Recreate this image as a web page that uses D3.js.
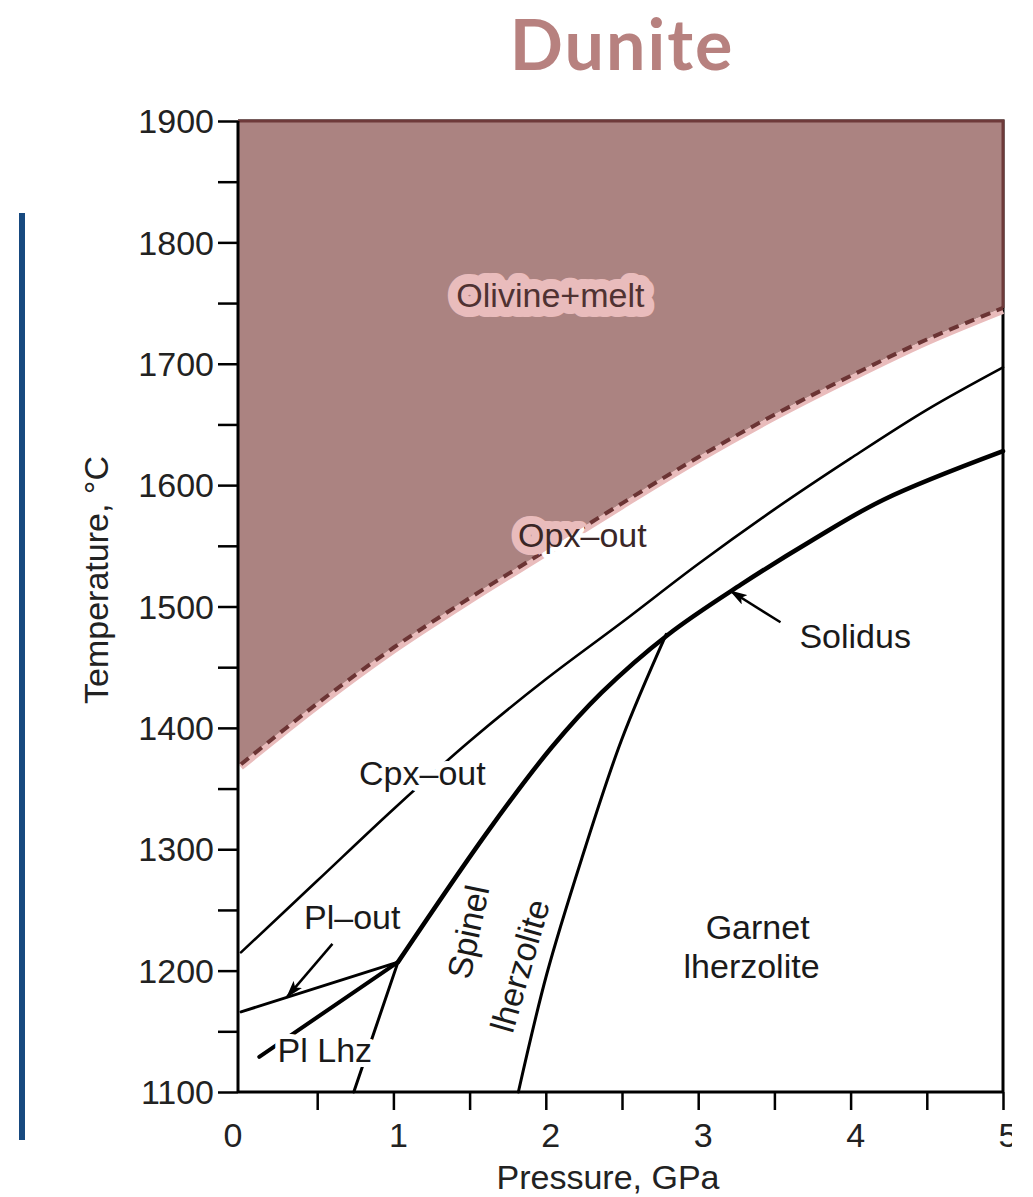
<!DOCTYPE html>
<html>
<head>
<meta charset="utf-8">
<script src="https://cdn.jsdelivr.net/npm/d3@7"></script>
<style>
  html, body { margin: 0; padding: 0; background: #ffffff; }
  svg { display: block; }
  text { font-family: "Liberation Sans", Arial, sans-serif; }
</style>
</head>
<body>
<svg id="chart" width="1033" height="1197"></svg>
<script>
// Phase diagram of peridotite melting (pressure in GPa, temperature in °C)

const pressureTicks = [0, 1, 2, 3, 4, 5];
const pressureMinorTicks = [0.5, 1.5, 2.5, 3.5, 4.5];
const temperatureTicks = [1100, 1200, 1300, 1400, 1500, 1600, 1700, 1800, 1900];
const temperatureMinorTicks = [1150, 1250, 1350, 1450, 1550, 1650, 1750, 1850];

// Opx-out boundary: lower edge of the olivine + melt field
const opxOut = [[0, 1370], [0.5, 1420], [1, 1466], [1.5, 1507], [2, 1546], [2.5, 1585],
                [3, 1623], [3.5, 1658], [4, 1690], [4.5, 1720], [5, 1746]];
// Cpx-out curve
const cpxOut = [[0, 1215], [0.5, 1274], [1, 1333], [1.5, 1389], [2, 1440], [2.5, 1487],
                [3, 1535], [3.5, 1580], [4, 1622], [4.5, 1662], [5, 1697]];
// Solidus in the plagioclase field (Pl-out)
const plOut = [[0, 1166], [1.03, 1207]];
// Solidus above the plagioclase-spinel junction
const solidus = [[1.03, 1207], [1.627, 1316], [2.039, 1384], [2.366, 1429], [2.804, 1477],
                 [3.28, 1518], [3.74, 1554], [4.216, 1588], [5, 1628]];
// Plagioclase / spinel lherzolite boundaries
const plSpinelUpper = [[0.12, 1129], [1.03, 1207]];
const plSpinelLower = [[1.03, 1207], [0.74, 1100]];
// Spinel / garnet lherzolite boundary
const spinelGarnet = [[1.82, 1100], [2.006, 1197], [2.235, 1292], [2.497, 1390], [2.79, 1477]];

// Annotation arrows: [tail, tip]
const plOutArrow = [[0.6, 1222], [0.3, 1178]];
const solidusArrow = [[3.54, 1487], [3.21, 1513]];

const svg = d3.select("#chart");
const x = d3.scaleLinear().domain([0, 5]).range([241, 1003]);
const y = d3.scaleLinear().domain([1100, 1900]).range([1092, 121]);
const xLeft = 238;   // left frame edge

const fillColor = "#ab8381";
const haloPink = "#e9bcbc";

// Title
svg.append("text")
  .attr("x", 622).attr("y", 70)
  .attr("text-anchor", "middle")
  .style("font-family", "Lato, 'Open Sans', sans-serif")
  .style("font-weight", 700)
  .style("font-size", "70px")
  .style("letter-spacing", "2px")
  .attr("fill", "#b7817f")
  .text("Dunite");

// Vertical accent bar
svg.append("rect")
  .attr("x", 19).attr("y", 213).attr("width", 6).attr("height", 927)
  .attr("fill", "#17497f");

const defs = svg.append("defs");
defs.append("marker")
  .attr("id", "arrowhead")
  .attr("viewBox", "0 0 18 11")
  .attr("refX", 17).attr("refY", 5.5)
  .attr("markerWidth", 18).attr("markerHeight", 11)
  .attr("markerUnits", "userSpaceOnUse")
  .attr("orient", "auto")
  .append("path").attr("d", "M0,0 L18,5.5 L0,11 L4,5.5 Z").attr("fill", "#000");

const curve = d3.line().x(d => x(d[0])).y(d => y(d[1])).curve(d3.curveCatmullRom);

// Melt field polygon: top edge, right edge, then back along the Opx-out curve
const opxReversed = curve(opxOut.slice().reverse());
const meltFieldPath = `M${xLeft},${y(1900)}L${x(5)},${y(1900)}L` + opxReversed.slice(1) +
  `L${xLeft},${y(opxOut[0][1])}Z`;

defs.append("clipPath").attr("id", "meltClip")
  .append("path").attr("d", meltFieldPath);
defs.append("clipPath").attr("id", "frameClip")
  .append("rect").attr("x", 0).attr("y", 0).attr("width", 1012).attr("height", 1197);

// Frame (top and right)
svg.append("path")
  .attr("d", `M${xLeft},${y(1900)}H${x(5)}V${y(1100)}`)
  .attr("fill", "none").attr("stroke", "#000").attr("stroke-width", 3);

svg.append("path")
  .attr("d", meltFieldPath)
  .attr("fill", fillColor);
svg.append("path")
  .attr("d", `M${xLeft},${y(1900)}H${x(5)}V${y(1746)}`)
  .attr("fill", "none").attr("stroke", "#6e3a3a").attr("stroke-width", 3);

// Pink glow below the Opx-out boundary, then the dashed boundary
svg.append("path")
  .attr("d", curve(opxOut))
  .attr("transform", "translate(0,3)")
  .attr("fill", "none").attr("stroke", haloPink).attr("stroke-width", 6);
svg.append("path")
  .attr("d", curve(opxOut))
  .attr("fill", "none").attr("stroke", "#6b3434").attr("stroke-width", 4)
  .attr("stroke-dasharray", "10,7");

// Phase boundaries
function boundary(data, width) {
  svg.append("path")
    .attr("d", curve(data))
    .attr("fill", "none").attr("stroke", "#000")
    .attr("stroke-width", width).attr("stroke-linecap", "round").attr("stroke-linejoin", "round");
}
boundary(cpxOut, 2.6);
boundary(plOut, 3);
boundary(solidus, 4.5);
boundary(plSpinelUpper, 4);
boundary(plSpinelLower, 3);
boundary(spinelGarnet, 3);

// Arrows
[plOutArrow, solidusArrow].forEach(a => {
  svg.append("line")
    .attr("x1", x(a[0][0])).attr("y1", y(a[0][1]))
    .attr("x2", x(a[1][0])).attr("y2", y(a[1][1]))
    .attr("stroke", "#000").attr("stroke-width", 2.5)
    .attr("marker-end", "url(#arrowhead)");
});

// Axes
const xAxis = svg.append("g").attr("transform", `translate(0,${y(1100)})`);
xAxis.call(d3.axisBottom(x).tickValues(pressureTicks.concat(pressureMinorTicks).filter(d => d > 0))
  .tickSize(18).tickFormat(""));
xAxis.select(".domain").attr("stroke-width", 3).attr("d", `M${xLeft},0H${x(5)}`);
xAxis.selectAll(".tick line").attr("stroke-width", 2.5);

const xLabels = svg.append("g").attr("clip-path", "url(#frameClip)");
xLabels.selectAll("text").data(pressureTicks).join("text")
  .attr("x", d => x(d) + (d === 0 ? -8 : 5)).attr("y", 1147)
  .attr("text-anchor", "middle")
  .style("font-size", "34px").attr("fill", "#222")
  .text(d => d);

const yAxis = svg.append("g").attr("transform", `translate(${xLeft},0)`);
yAxis.call(d3.axisLeft(y).tickValues(temperatureTicks.concat(temperatureMinorTicks))
  .tickSize(20).tickFormat(""));
yAxis.select(".domain").attr("stroke-width", 3).attr("d", `M0,${y(1900)}V${y(1100)}`);
yAxis.selectAll(".tick line").attr("stroke-width", 2.5);

svg.append("g").selectAll("text").data(temperatureTicks).join("text")
  .attr("x", 214).attr("y", d => y(d))
  .attr("dy", "0.36em")
  .attr("text-anchor", "end")
  .style("font-size", "34px").attr("fill", "#222")
  .text(d => d);

svg.append("text")
  .attr("x", 608).attr("y", 1189)
  .attr("text-anchor", "middle")
  .style("font-size", "34px").attr("fill", "#222")
  .text("Pressure, GPa");

svg.append("text")
  .attr("transform", "translate(108,580) rotate(-90)")
  .attr("text-anchor", "middle")
  .style("font-size", "34px").attr("fill", "#222")
  .text("Temperature, °C");

// Field labels
function label(txt, p, t, opts = {}) {
  const g = svg.append("g");
  const px = x(p), py = y(t);
  const tf = opts.rotate ? `translate(${px},${py}) rotate(${opts.rotate})` : `translate(${px},${py})`;
  const dy = opts.rotate ? "0.35em" : "0";
  if (opts.whiteHalo !== false) {
    g.append("text").attr("transform", tf).attr("dy", dy).attr("text-anchor", "middle")
      .style("font-size", "34px")
      .attr("fill", "#fff").attr("stroke", "#fff")
      .attr("stroke-width", opts.haloWidth || 9).attr("stroke-linejoin", "round")
      .text(txt);
  }
  if (opts.pinkHalo) {
    g.append("g").attr("clip-path", "url(#meltClip)")
      .append("text").attr("transform", tf).attr("text-anchor", "middle")
      .style("font-size", "34px")
      .attr("fill", haloPink).attr("stroke", haloPink)
      .attr("stroke-width", opts.pinkWidth || 14).attr("stroke-linejoin", "round")
      .text(txt);
  }
  g.append("text").attr("transform", tf).attr("dy", dy).attr("text-anchor", "middle")
    .style("font-size", "34px")
    .attr("fill", opts.color || "#1a1a1a")
    .text(txt);
}

label("Olivine+melt", 2.03, 1747, { whiteHalo: false, pinkHalo: true, pinkWidth: 20, color: "#4f3232" });
label("Opx–out", 2.24, 1549, { pinkHalo: true, pinkWidth: 16, color: "#3a2626" });
label("Cpx–out", 1.19, 1353, { haloWidth: 12 });
label("Pl–out", 0.73, 1234);
label("Pl Lhz", 0.55, 1125, { haloWidth: 10 });
label("Solidus", 4.03, 1466);
label("Garnet", 3.39, 1226);
label("lherzolite", 3.35, 1194);
label("Spinel", 1.49, 1232, { rotate: -78, haloWidth: 6 });
label("lherzolite", 1.83, 1204, { rotate: -74, haloWidth: 6 });
</script>
</body>
</html>
